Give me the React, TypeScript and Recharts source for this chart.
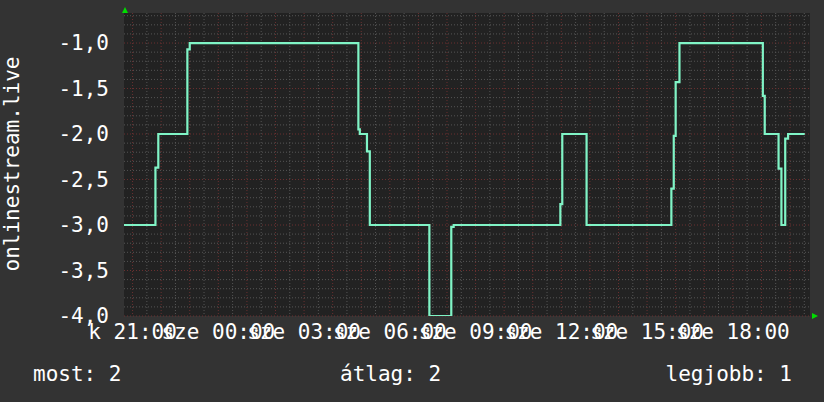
import React from 'react';
import { LineChart, Line, XAxis, YAxis, CartesianGrid } from 'recharts';

// minutes relative to Tue 21:00
const minutes = [-18, 48, 54, 115, 120, 474, 477, 492, 498, 623, 669, 674, 898, 902, 953, 1131, 1136, 1140, 1148, 1323, 1327, 1356, 1362, 1370, 1376, 1411];
const values = [-3.0, -2.37, -2.0, -1.07, -1.0, -1.95, -2.0, -2.19, -3.0, -4.0, -3.02, -3.0, -2.77, -2.0, -3.0, -2.6, -2.02, -1.43, -1.0, -1.58, -2.0, -2.38, -3.0, -2.05, -2.0, -2.0];

const xTicks = [0, 180, 360, 540, 720, 900, 1080, 1260];
const xTickLabels = ['k 21:00', 'sze 00:00', 'sze 03:00', 'sze 06:00', 'sze 09:00', 'sze 12:00', 'sze 15:00', 'sze 18:00'];
const yTicks = [-4, -3.5, -3, -2.5, -2, -1.5, -1];
const xDomain = [-18, 1422];
const yDomain = [-4, -0.67];

const seriesName = 'onlinestream.live';
const legendItems = ['most: 2', 'átlag: 2', 'legjobb: 1'];

const data = minutes.map((m, i) => ({ t: m, v: values[i] }));

const FONT = '"DejaVu Sans Mono", monospace';

const minorX: number[] = [];
const majorX: number[] = [];
for (let m = -30; m <= 1440; m += 30) {
  if (m < xDomain[0] || m > xDomain[1]) continue;
  if (m % 60 === 0) majorX.push(m); else minorX.push(m);
}
const minorY: number[] = [];
const majorY: number[] = [];
for (let k = -40; k <= -7; k++) {
  const v = k / 10;
  if (k % 5 === 0) majorY.push(v); else minorY.push(v);
}

const XTick = (props: any) => {
  const { x, y, payload } = props;
  const idx = xTicks.indexOf(payload.value);
  return (
    <text x={x} y={y + 23} textAnchor="middle" fill="#ffffff" fontFamily={FONT} fontSize={21}>
      {idx >= 0 ? xTickLabels[idx] : ''}
    </text>
  );
};

const YTick = (props: any) => {
  const { x, y, payload } = props;
  return (
    <text x={x} y={y + 7} textAnchor="end" fill="#ffffff" fontFamily={FONT} fontSize={21}>
      {Number(payload.value).toFixed(1).replace('.', ',')}
    </text>
  );
};

export default function App() {
  return (
    <div style={{ position: 'fixed', left: 0, top: 0, width: 824, height: 402, background: '#333333', overflow: 'hidden' }}>
      <LineChart width={824} height={402} data={data} margin={{ top: 13, right: 14, bottom: 56, left: 64 }}>
        <CartesianGrid
          fill="#222222"
          stroke="#555555"
          strokeDasharray="1 2"
          horizontalValues={minorY}
          verticalValues={minorX}
        />
        <CartesianGrid
          stroke="#6a3030"
          strokeDasharray="1 2"
          horizontalValues={majorY}
          verticalValues={majorX}
        />
        <XAxis
          dataKey="t"
          type="number"
          domain={xDomain}
          ticks={xTicks}
          interval={0}
          height={30}
          axisLine={false}
          tickLine={false}
          tickSize={0}
          tickMargin={0}
          tick={<XTick />}
          allowDataOverflow
        />
        <YAxis
          type="number"
          domain={yDomain}
          ticks={yTicks}
          interval={0}
          width={60}
          axisLine={false}
          tickLine={false}
          tickSize={0}
          tickMargin={15}
          tick={<YTick />}
          allowDataOverflow
        />
        <Line
          type="stepAfter"
          dataKey="v"
          stroke="#80f4c6"
          strokeWidth={2.2}
          dot={false}
          isAnimationActive={false}
        />
      </LineChart>
      <svg width={824} height={402} style={{ position: 'absolute', left: 0, top: 0, pointerEvents: 'none' }}>
        <polygon points="122,13 128,13 125,7" fill="#00dd00" />
        <polygon points="812,313 812,319 818,316" fill="#00dd00" />
        <text transform="translate(19,164) rotate(-90)" textAnchor="middle" fill="#ffffff" fontFamily={FONT} fontSize={21}>
          {seriesName}
        </text>
        <text x={33} y={381} fill="#ffffff" fontFamily={FONT} fontSize={21}>{legendItems[0]}</text>
        <text x={340} y={381} fill="#ffffff" fontFamily={FONT} fontSize={21}>{legendItems[1]}</text>
        <text x={792} y={381} textAnchor="end" fill="#ffffff" fontFamily={FONT} fontSize={21}>{legendItems[2]}</text>
      </svg>
    </div>
  );
}
